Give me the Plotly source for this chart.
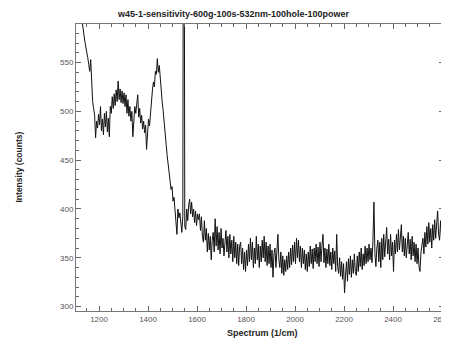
import plotly.graph_objects as go

# Wavenumber grid (1/cm): start and step of the recorded spectrum
x_start = 1130
x_step = 4

# Intensity (counts), 10 values per row (40 cm^-1 per row)
intensity = [
    594, 585, 578, 572, 566, 562, 555, 548, 541, 553,   # 1130
    528, 510, 503, 496, 473, 490, 483, 497, 486, 505,   # 1170
    480, 492, 476, 498, 484, 500, 479, 493, 474, 505,   # 1210
    498, 515, 503, 518, 506, 522, 510, 531, 512, 523,   # 1250
    509, 521, 508, 519, 505, 517, 498, 512, 495, 505,   # 1290
    490, 500, 474, 493, 505, 498, 510, 517, 494, 503,   # 1330
    488, 496, 482, 490, 478, 486, 461, 480, 492, 485,   # 1370
    500, 510, 522, 530, 525, 541, 538, 554, 540, 547,   # 1410
    530, 518, 509, 500, 485, 474, 466, 455, 447, 440,   # 1450
    430, 420, 423, 408, 412, 400, 393, 374, 400, 391,   # 1490
    396, 380, 376, 392, 1000, 382, 379, 400, 388, 404,  # 1530
    410, 395, 407, 392, 400, 386, 398, 383, 395, 389,   # 1570
    395, 378, 392, 372, 366, 388, 368, 380, 356, 375,   # 1610
    358, 372, 348, 368, 376, 356, 390, 362, 382, 358,   # 1650
    376, 354, 380, 360, 370, 352, 368, 378, 356, 372,   # 1690
    350, 374, 354, 368, 346, 372, 350, 366, 344, 364,   # 1730
    342, 362, 366, 344, 360, 338, 356, 336, 358, 342,   # 1770
    364, 346, 370, 348, 366, 340, 360, 344, 372, 348,   # 1810
    364, 340, 362, 346, 368, 350, 372, 346, 366, 342,   # 1850
    362, 344, 364, 340, 358, 330, 354, 360, 340, 364,   # 1890
    374, 348, 340, 356, 334, 352, 332, 348, 336, 352,   # 1930
    338, 356, 340, 360, 343, 363, 346, 366, 344, 370,   # 1970
    350, 368, 346, 362, 340, 360, 344, 358, 338, 354,   # 2010
    336, 356, 341, 362, 344, 359, 339, 360, 346, 364,   # 2050
    344, 361, 341, 366, 346, 362, 374, 345, 360, 340,   # 2090
    359, 344, 364, 342, 356, 338, 360, 344, 357, 336,   # 2130
    374, 341, 334, 350, 331, 346, 328, 344, 314, 332,   # 2170
    346, 326, 349, 333, 352, 330, 348, 334, 354, 336,   # 2210
    332, 352, 336, 356, 341, 360, 338, 354, 342, 362,   # 2250
    344, 360, 346, 364, 348, 360, 345, 368, 407, 354,   # 2290
    341, 360, 368, 346, 366, 340, 370, 348, 374, 351,   # 2330
    372, 381, 354, 369, 348, 374, 352, 366, 336, 368,   # 2370
    354, 374, 356, 379, 358, 376, 384, 356, 372, 352,   # 2410
    370, 350, 366, 376, 354, 369, 348, 372, 352, 366,   # 2450
    346, 364, 344, 360, 341, 336, 356, 366, 370, 354,   # 2490
    376, 361, 382, 364, 386, 366, 380, 360, 384, 368,   # 2530
    389, 370, 386, 398, 374, 368, 388, 371, 390, 375,   # 2570
]
wavenumber = [x_start + x_step * i for i in range(len(intensity))]

title_text = "w45-1-sensitivity-600g-100s-532nm-100hole-100power"
x_title = "Spectrum (1/cm)"
y_title = "Intensity (counts)"

font_family = "Liberation Sans, Arial, sans-serif"

fig = go.Figure(go.Scatter(
    x=wavenumber, y=intensity, mode="lines",
    line=dict(color="#111111", width=1),
    showlegend=False, hoverinfo="skip",
))

axis_common = dict(
    showgrid=False, zeroline=False,
    showline=True, linecolor="#777777", linewidth=1,
    mirror="allticks", ticks="inside", ticklen=5, tickwidth=1, tickcolor="#666666",
    tickfont=dict(family=font_family, size=8, color="#555555"),
    ticklabeloverflow="allow", automargin=False,
)

fig.update_layout(
    width=441, height=333,
    margin=dict(l=68, r=5, t=16, b=30),
    paper_bgcolor="white", plot_bgcolor="white",
    xaxis=dict(range=[1106, 2608], dtick=200, tick0=1200,
               minor=dict(dtick=50, tick0=1200, ticks="inside", ticklen=3, tickcolor="#666666"),
               **axis_common),
    yaxis=dict(range=[295.5, 589.5], dtick=50, tick0=300,
               minor=dict(dtick=10, tick0=300, ticks="inside", ticklen=3, tickcolor="#666666"),
               **axis_common),
    annotations=[
        dict(text="<b>" + title_text + "</b>", xref="paper", yref="paper",
             x=0.427, y=1.0, yshift=10, showarrow=False, xanchor="center", yanchor="middle",
             font=dict(family=font_family, size=9, color="#222222")),
        dict(text="<b>" + x_title + "</b>", xref="paper", yref="paper",
             x=0.506, y=0, yshift=-22, showarrow=False, xanchor="center", yanchor="middle",
             font=dict(family=font_family, size=9, color="#222222")),
        dict(text="<b>" + y_title + "</b>", xref="paper", yref="paper",
             x=0, xshift=-58, y=0.5, showarrow=False, xanchor="center", yanchor="middle",
             textangle=-90,
             font=dict(family=font_family, size=8.5, color="#222222")),
    ],
)

fig.write_html("out.html")
